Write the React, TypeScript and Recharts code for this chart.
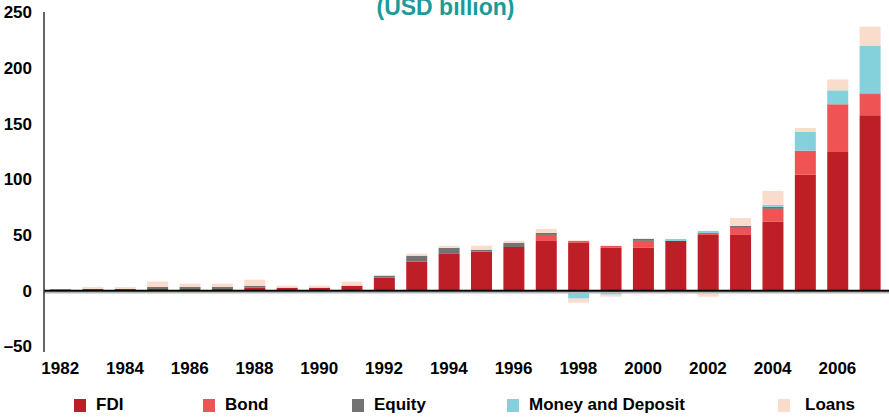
import { BarChart, Bar, XAxis, YAxis, ReferenceLine } from 'recharts'

const years = [
  '1982', '1983', '1984', '1985', '1986', '1987', '1988', '1989', '1990', '1991', '1992', '1993', '1994',
  '1995', '1996', '1997', '1998', '1999', '2000', '2001', '2002', '2003', '2004', '2005', '2006', '2007',
]
const fdi = [0, 1.5, 1.5, 1.5, 1.5, 1.5, 2.7, 2.7, 2.7, 4.5, 11.6, 26, 33, 35, 39.3, 44.6, 42.9, 38.4, 38.4, 44.6, 50, 50, 61.8, 104, 124.4, 157.4]
const bond = [0, 0, 0, 0, 0, 0, 0, 0, 0, 0, 0, 0, 0, 0, 0, 5.4, 1.8, 1.8, 6.3, 0, 1.8, 6.3, 11.6, 21.5, 42.8, 19]
const equity = [1.3, 0, 0, 1.8, 1.8, 1.8, 1.8, 0, 0, 0, 1.8, 5.4, 5.4, 1.8, 3.6, 1.8, 0, 0, 1.8, 0, 0, 1.8, 1.8, 0, 0, 0.6]
const money = [0, 0, 0, 0, 0, 0, 0, 0, 0, 0, 0, 0, 0, 0, 0, 0, -7.1, -3.6, 0, 1.8, 1.8, 0, 1.8, 16.9, 12.5, 42.9]
const loans = [0, 1.8, 1.8, 5, 3, 3, 5.4, 1.8, 1.8, 3.6, 0, 1.8, 1.8, 3.6, 1.8, 3.6, -3.6, -1.8, 0, 0, -5.4, 7.1, 12.5, 3.6, 9.8, 17]
const yTicks = [-50, 0, 50, 100, 150, 200, 250]

const series = [
  { key: 'fdi', name: 'FDI', color: '#be1e26' },
  { key: 'bond', name: 'Bond', color: '#f05354' },
  { key: 'equity', name: 'Equity', color: '#737373' },
  { key: 'money', name: 'Money and Deposit', color: '#85d1db' },
  { key: 'loans', name: 'Loans', color: '#fadccc' },
]

const data = years.map((year, i) => ({
  year,
  fdi: fdi[i],
  bond: bond[i],
  equity: equity[i],
  money: money[i],
  loans: loans[i],
}))

// legend items are spread unevenly in the original
const legendLeft = [74, 203, 352, 507, 778]

const LegendRow = () => (
  <div style={{ position: 'absolute', left: 0, top: 395, width: 889, height: 20 }}>
    {series.map((s, i) => (
      <div key={s.key} style={{ position: 'absolute', left: legendLeft[i], top: 0, display: 'flex', alignItems: 'center', height: 20 }}>
        <span style={{ display: 'inline-block', width: 12, height: 13, background: s.color, marginRight: i === 4 ? 15 : 10 }} />
        <span style={{ fontSize: 17, fontWeight: 700, color: '#000' }}>{s.name}</span>
      </div>
    ))}
  </div>
)

// zero line: black rule with a light grey shadow just under it
const ZeroLine = (p: any) => (
  <g>
    <line x1={p.x1} x2={p.x2 + 3} y1={p.y1 + 2} y2={p.y2 + 2} stroke="#b5b5b5" strokeWidth={1.5} />
    <line x1={p.x1} x2={p.x2 + 3} y1={p.y1} y2={p.y2} stroke="#000" strokeWidth={2} />
  </g>
)

export default function App() {
  return (
    <div style={{ position: 'absolute', left: 0, top: 0, width: 889, height: 417, background: '#fff', fontFamily: 'Arial, "Liberation Sans", sans-serif', overflow: 'hidden' }}>
      <div style={{ position: 'absolute', left: 0, width: 889, top: -4, textAlign: 'center', fontSize: 23, lineHeight: '23px', fontWeight: 700, color: '#179c9b' }}>
        <span style={{ position: 'relative', left: 1 }}>(USD billion)</span>
      </div>
      <BarChart
        width={889}
        height={417}
        data={data}
        stackOffset="sign"
        barSize={21}
        margin={{ top: 12, right: 3, left: 0, bottom: 35 }}
      >
        <XAxis
          dataKey="year"
          interval={1}
          axisLine={false}
          tickLine={false}
          tickSize={0}
          tickMargin={10}
          height={30}
          tick={{ fontSize: 17, fontWeight: 700, fill: '#000' }}
        />
        <YAxis
          domain={[-55, 250]}
          ticks={yTicks}
          width={44}
          tickLine={false}
          tickSize={0}
          tickMargin={12}
          axisLine={{ stroke: '#333', strokeWidth: 1.5 }}
          tickFormatter={(v) => (v < 0 ? `\u2013${Math.abs(v)}` : `${v}`)}
          tick={{ fontSize: 17, fontWeight: 700, fill: '#000' }}
        />
        {series.map((s) => (
          <Bar key={s.key} dataKey={s.key} name={s.name} stackId="a" fill={s.color} isAnimationActive={false} />
        ))}
        <ReferenceLine y={0} stroke="#000" strokeWidth={2} shape={ZeroLine} />
      </BarChart>
      <LegendRow />
    </div>
  )
}
